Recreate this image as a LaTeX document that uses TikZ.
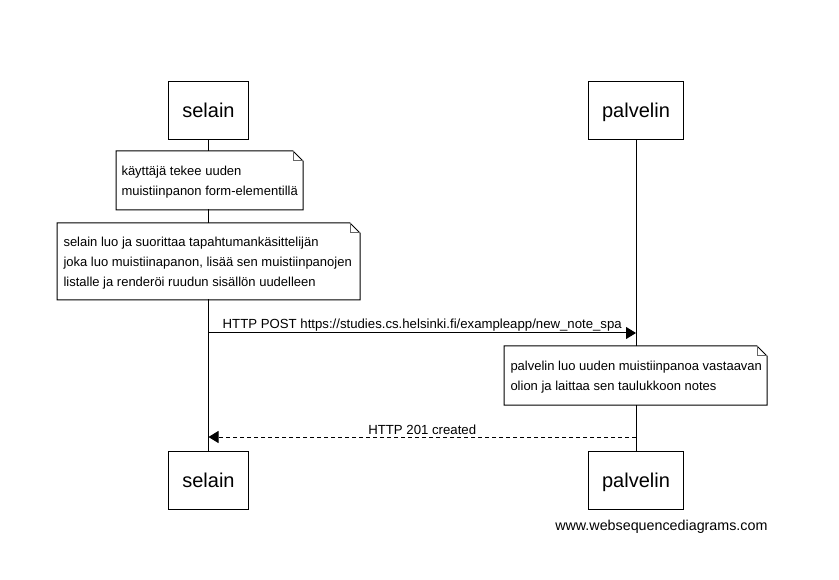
\documentclass[tikz,border=0pt]{standalone}
\usepackage{fontspec}
\setmainfont{Liberation Sans}
\usetikzlibrary{arrows.meta}
% outline of a note with a folded top-right corner, drawn around a named node
\newcommand\foldoutline[1]{%
  \draw (#1.north west) -- ([xshift=-10pt]#1.north east) -- ([yshift=-10pt]#1.north east)
    -- (#1.south east) -- (#1.south west) -- cycle;
  \draw[fold] ([xshift=-10pt]#1.north east) |- ([yshift=-10pt]#1.north east);}
\begin{document}
\begin{tikzpicture}[x=1pt,y=-1pt,line width=1pt,
  actor/.style={draw, minimum height=58pt, inner sep=0pt, anchor=north west,
    text height=14pt, text depth=0pt, font=\fontsize{20}{22}\selectfont},
  noteframe/.style={anchor=north west, inner sep=0pt, fill=white},
  notetext/.style={anchor=west, inner sep=0pt, align=left,
    font=\fontsize{13}{20}\selectfont},
  msg/.style={font=\fontsize{13.2}{16}\selectfont, inner sep=1.5pt, anchor=south},
  head/.style={-{Triangle[length=10pt,width=12pt]}},
  fold/.style={draw=black!60}
]
% canvas
\fill[white] (0,0) rectangle (839,580);
\useasboundingbox (0,0) rectangle (839,580);

% participants, top and bottom
\node[actor, minimum width=80pt] (selT) at (168,81) {selain};
\node[actor, minimum width=95pt] (palT) at (588,81) {palvelin};
\node[actor, minimum width=80pt] (selB) at (168,451) {selain};
\node[actor, minimum width=95pt] (palB) at (588,451) {palvelin};

% lifelines
\draw (selT.south) -- (selB.north);
\draw (palT.south) -- (palB.north);

% notes on the browser side
\node[noteframe, minimum width=186pt, minimum height=58pt] (n1) at (116,151) {};
\foldoutline{n1}
\node[notetext] (t1) at ([xshift=5pt,yshift=-1.5pt]n1.west)
  {käyttäjä tekee uuden\\muistiinpanon form-elementillä};
\node[noteframe, minimum width=302pt, minimum height=76pt] (n2) at (57,223) {};
\foldoutline{n2}
\node[notetext] (t2) at ([xshift=6pt,yshift=-2pt]n2.west)
  {selain luo ja suorittaa tapahtumankäsittelijän\\joka luo muistiinapanon, lisää sen muistiinpanojen\\listalle ja renderöi ruudun sisällön uudelleen};

% request
\coordinate (postS) at (selT.south |- 0,333);
\coordinate (postE) at (palT.south |- 0,333);
\draw[head] (postS) -- (postE)
  node[msg, pos=0.5] (postL) {HTTP POST https://studies.cs.helsinki.fi/exampleapp/new\_note\_spa};

% note on the server side
\node[noteframe, minimum width=262pt, minimum height=58pt] (n3) at (504,346) {};
\foldoutline{n3}
\node[notetext] (t3) at ([xshift=6pt,yshift=-1.5pt]n3.west)
  {palvelin luo uuden muistiinpanoa vastaavan\\olion ja laittaa sen taulukkoon notes};

% response
\coordinate (respS) at (palT.south |- 0,437);
\coordinate (respE) at (selT.south |- 0,437);
\draw[head, dash pattern=on 4pt off 3pt] (respS) -- (respE)
  node[msg, pos=0.5] (respL) {HTTP 201 created};

% footer
\node[font=\fontsize{14.3}{16}\selectfont, anchor=east, inner sep=0pt] (wm) at (768,527)
  {www.websequencediagrams.com};
\end{tikzpicture}
\end{document}
